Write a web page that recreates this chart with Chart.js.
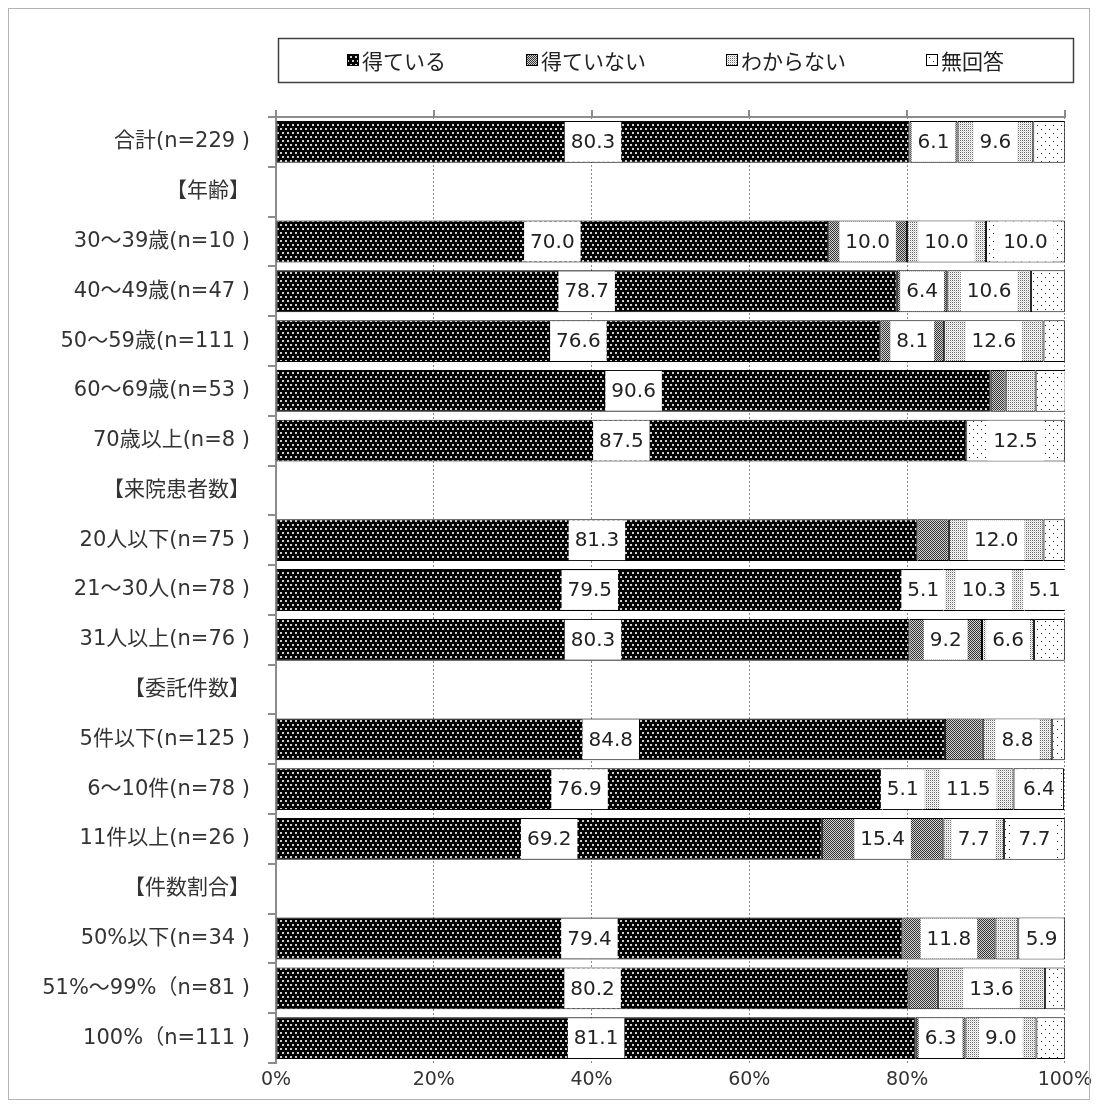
<!DOCTYPE html>
<html>
<head>
<meta charset="utf-8">
<script src="https://cdn.jsdelivr.net/npm/chart.js@4/dist/chart.umd.min.js"></script>
<style>
  html, body { margin: 0; padding: 0; background: #fff; }
  canvas { display: block; }
</style>
</head>
<body>
<canvas id="chart" width="1098" height="1109"></canvas>
<script>
const categories = [
  "合計(n=229 )", "【年齢】",
  "30～39歳(n=10 )", "40～49歳(n=47 )", "50～59歳(n=111 )", "60～69歳(n=53 )", "70歳以上(n=8 )",
  "【来院患者数】",
  "20人以下(n=75 )", "21～30人(n=78 )", "31人以上(n=76 )",
  "【委託件数】",
  "5件以下(n=125 )", "6～10件(n=78 )", "11件以上(n=26 )",
  "【件数割合】",
  "50%以下(n=34 )", "51%～99%（n=81 )", "100%（n=111 )"
];
const seriesNames = ["得ている", "得ていない", "わからない", "無回答"];

const gotIt   = [80.3, null, 70.0, 78.7, 76.6, 90.6, 87.5, null, 81.3, 79.5, 80.3, null, 84.8, 76.9, 69.2, null, 79.4, 80.2, 81.1];
const notGot  = [6.1,  null, 10.0, 6.4,  8.1,  1.9,  0,    null, 4.0,  5.1,  9.2,  null, 4.8,  5.1,  15.4, null, 11.8, 3.7,  6.3];
const unknown = [9.6,  null, 10.0, 10.6, 12.6, 3.8,  0,    null, 12.0, 10.3, 6.6,  null, 8.8,  11.5, 7.7,  null, 2.9,  13.6, 9.0];
const noReply = [4.0,  null, 10.0, 4.3,  2.7,  3.8,  12.5, null, 2.7,  5.1,  3.9,  null, 1.6,  6.4,  7.7,  null, 5.9,  2.5,  3.6];

const xTicks = [0, 20, 40, 60, 80, 100];

// Latin glyphs from DejaVu, Japanese falls back to Noto CJK
const FONT = "'DejaVu Sans', 'Noto Sans CJK JP', sans-serif";
const JP_FONT = "'Noto Sans CJK JP', sans-serif";

// small tiled fills, like the hatch patterns of a print chart
function makePattern(w, h, bg, dots) {
  const c = document.createElement("canvas");
  c.width = w; c.height = h;
  const g = c.getContext("2d");
  g.fillStyle = bg;
  g.fillRect(0, 0, w, h);
  dots.forEach(([x, y, col, s]) => {
    g.fillStyle = col;
    g.fillRect(x, y, s || 1, s || 1);
  });
  return g.createPattern(c, "repeat");
}

const fills = [
  makePattern(10, 8, "#000", [[0, 0, "#d0d0d0", 2], [5, 0, "#d0d0d0", 2], [2, 4, "#d0d0d0", 2], [7, 4, "#d0d0d0", 2]]),
  makePattern(2, 2, "#333", [[1, 0, "#d2d2d2"], [0, 1, "#d2d2d2"]]),
  makePattern(2, 2, "#fff", [[0, 0, "#6a6a6a"], [1, 1, "#d4d4d4"]]),
  makePattern(8, 8, "#fff", [[1, 1, "#222"], [5, 5, "#222"]])
];

const seriesData = [gotIt, notGot, unknown, noReply];

const valueLabels = {
  id: "valueLabels",
  afterDatasetsDraw(chart) {
    const ctx = chart.ctx;
    ctx.save();
    ctx.font = "20px " + FONT;
    ctx.textAlign = "center";
    ctx.textBaseline = "middle";
    chart.data.datasets.forEach((ds, i) => {
      chart.getDatasetMeta(i).data.forEach((bar, j) => {
        const v = ds.data[j];
        if (v == null || v < 5) return;
        const p = bar.getProps(["x", "y", "base", "height"], true);
        const cx = (p.x + p.base) / 2;
        const h = p.height - 2;
        const text = v.toFixed(1);
        const w = ctx.measureText(text).width + 12;
        ctx.fillStyle = "#fff";
        ctx.fillRect(cx - w / 2, p.y - h / 2, w, h);
        ctx.fillStyle = "#222";
        ctx.fillText(text, cx, p.y + 1);
      });
    });
    ctx.restore();
  }
};

const frameAndLegend = {
  id: "frameAndLegend",
  afterDraw(chart) {
    const ctx = chart.ctx;
    ctx.save();
    // outer frame
    ctx.strokeStyle = "#b4b4b4";
    ctx.lineWidth = 1;
    ctx.strokeRect(8.5, 8.5, 1081, 1091);

    // legend box
    const bx = 278, by = 38, bw = 795, bh = 44;
    ctx.strokeStyle = "#404040";
    ctx.lineWidth = 1.5;
    ctx.strokeRect(bx + 0.5, by + 0.5, bw, bh);

    ctx.font = "21px " + JP_FONT;
    ctx.textBaseline = "middle";
    const sq = 12, gap = 3, itemGap = 80;
    const widths = chart.data.datasets.map(ds => sq + gap + ctx.measureText(ds.label).width);
    const total = widths.reduce((a, b) => a + b, 0) + itemGap * (widths.length - 1);
    let x = bx + bw / 2 - total / 2;
    const cy = by + bh / 2;
    chart.data.datasets.forEach((ds, i) => {
      ctx.fillStyle = ds.backgroundColor;
      ctx.fillRect(x, cy - sq / 2, sq, sq);
      ctx.strokeStyle = "#000";
      ctx.lineWidth = 1;
      ctx.strokeRect(x + 0.5, cy - sq / 2 + 0.5, sq - 1, sq - 1);
      ctx.fillStyle = "#222";
      ctx.fillText(ds.label, x + sq + gap, cy + 1);
      x += widths[i] + itemGap;
    });
    ctx.restore();
  }
};

new Chart(document.getElementById("chart"), {
  type: "bar",
  data: {
    labels: categories,
    datasets: seriesNames.map((name, i) => ({
      label: name,
      data: seriesData[i],
      backgroundColor: fills[i],
      borderColor: "#000",
      borderWidth: 1,
      borderSkipped: false,
      barPercentage: 0.84,
      categoryPercentage: 1.0,
      xAxisID: "x"
    }))
  },
  options: {
    indexAxis: "y",
    responsive: false,
    animation: false,
    devicePixelRatio: 1,
    layout: { padding: { top: 110, left: 0, right: 30, bottom: 16 } },
    plugins: {
      legend: { display: false },
      tooltip: { enabled: false }
    },
    scales: {
      x: {
        position: "bottom",
        stacked: true,
        min: 0,
        max: 100,
        afterFit: s => { s.height = 30; },
        afterBuildTicks: s => { s.ticks = xTicks.map(v => ({ value: v })); },
        border: { display: false, dash: [2, 2] },
        grid: {
          drawTicks: false,
          color: c => (c.tick && c.tick.value === 0 ? "rgba(0,0,0,0)" : "#8a8a8a"),
          lineWidth: 1
        },
        ticks: {
          padding: 6,
          color: "#333",
          font: { family: FONT, size: 19 },
          callback: v => v + "%"
        }
      },
      xTop: {
        position: "top",
        min: 0,
        max: 100,
        afterFit: s => { s.height = 7; },
        afterBuildTicks: s => { s.ticks = xTicks.map(v => ({ value: v })); },
        border: { display: true, color: "#8c8c8c", width: 2 },
        grid: { drawOnChartArea: false, drawTicks: true, tickLength: 7, color: "#8c8c8c", lineWidth: 2 },
        ticks: { display: false }
      },
      y: {
        stacked: true,
        afterFit: s => { s.width = 276; },
        border: { display: true, color: "#8c8c8c", width: 2 },
        grid: { offset: true, drawOnChartArea: false, drawTicks: true, tickLength: 8, color: "#8c8c8c", lineWidth: 2 },
        ticks: {
          padding: 18,
          color: "#333",
          font: { family: FONT, size: 21 }
        }
      }
    }
  },
  plugins: [valueLabels, frameAndLegend]
});
</script>
</body>
</html>
